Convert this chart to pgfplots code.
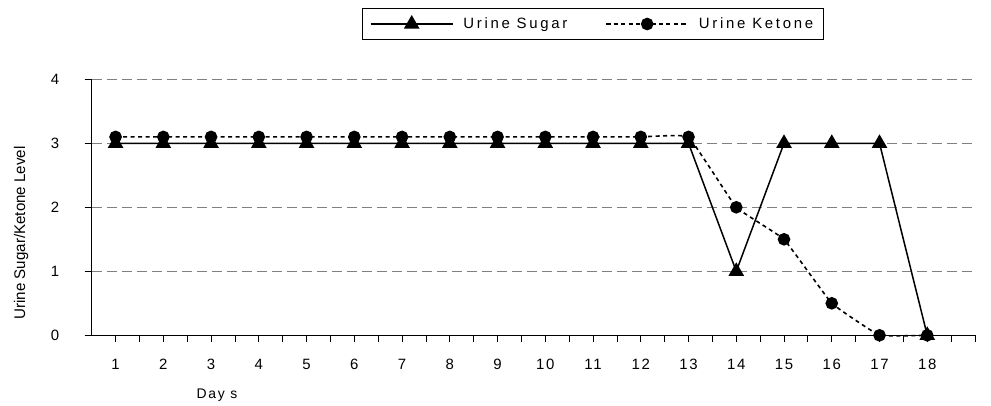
\documentclass[border=0pt]{standalone}
\usepackage{fontspec}
\setmainfont{Liberation Sans}
\newfontfamily\spaced[LetterSpace=12]{Liberation Sans}
\newfontfamily\legspaced[LetterSpace=18]{Liberation Sans}
\usepackage{pgfplots}
\pgfplotsset{compat=1.18}
\begin{document}
\begin{tikzpicture}
\useasboundingbox (0,0) rectangle (991bp,406bp);
\begin{axis}[
  at={(91.7bp,70.7bp)}, anchor=south west,
  scale only axis, width=883.3bp, height=256bp,
  xmin=0.5, xmax=19, ymin=0, ymax=4,
  axis x line=bottom, axis y line=left,
  axis line style={-, line width=0.8bp},
  xtick={1,...,18}, minor xtick={1.5,2.5,...,18.5,19},
  ytick={0,1,2,3,4},
  tick align=outside,
  major tick length=7bp, minor tick length=7bp,
  tick style={black, line width=0.8bp},
  /pgf/number format/assume math mode=true,
  tick label style={font=\spaced\fontsize{15}{17}\selectfont},
  xticklabel style={yshift=-13bp},
  yticklabel style={xshift=-22bp},
  ymajorgrids,
  grid style={gray, dash pattern=on 10bp off 5bp, line width=0.8bp},
  xlabel={\spaced Day s},
  xlabel style={at={(rel axis cs:0.1419,-0.233)}, anchor=center, font=\fontsize{14}{16}\selectfont},
  ylabel={\scalebox{0.98}[1]{Urine Sugar/Ketone Level}},
  ylabel style={at={(rel axis cs:-0.08,0.40)}, anchor=center, rotate=0, font=\fontsize{15.5}{17}\selectfont},
  legend columns=2,
  legend style={at={(rel axis cs:0.567,1.216)}, anchor=center, draw=black, line width=0.8bp,
    font=\legspaced\fontsize{15}{17}\selectfont, inner xsep=8bp, inner ysep=7bp,
    /tikz/every odd column/.append style={column sep=8bp},
    /tikz/every even column/.append style={column sep=36bp}},
  legend image code/.code={\draw[mark repeat=2,mark phase=2,#1] plot coordinates {(0bp,0bp) (41bp,0bp) (82bp,0bp)};},
  clip=false,
]
\addplot[black, line width=1.5bp, mark=triangle*, mark size=7.5bp, mark options={solid}] coordinates {
(1,3) (2,3) (3,3) (4,3) (5,3) (6,3) (7,3) (8,3) (9,3) (10,3) (11,3) (12,3) (13,3)
(14,1) (15,3) (16,3) (17,3) (18,0)};
\addlegendentry{Urine Sugar}
\addplot[black, line width=1.6bp, dash pattern=on 4bp off 3.5bp, smooth, tension=0.15, mark=*, mark size=5.5bp, mark options={solid}] coordinates {
(1,3.1) (2,3.1) (3,3.1) (4,3.1) (5,3.1) (6,3.1) (7,3.1) (8,3.1) (9,3.1) (10,3.1) (11,3.1) (12,3.1) (13,3.1)
(14,2) (15,1.5) (16,0.5) (17,0) (18,0)};
\addlegendentry{Urine Ketone}
\end{axis}
\end{tikzpicture}
\end{document}
